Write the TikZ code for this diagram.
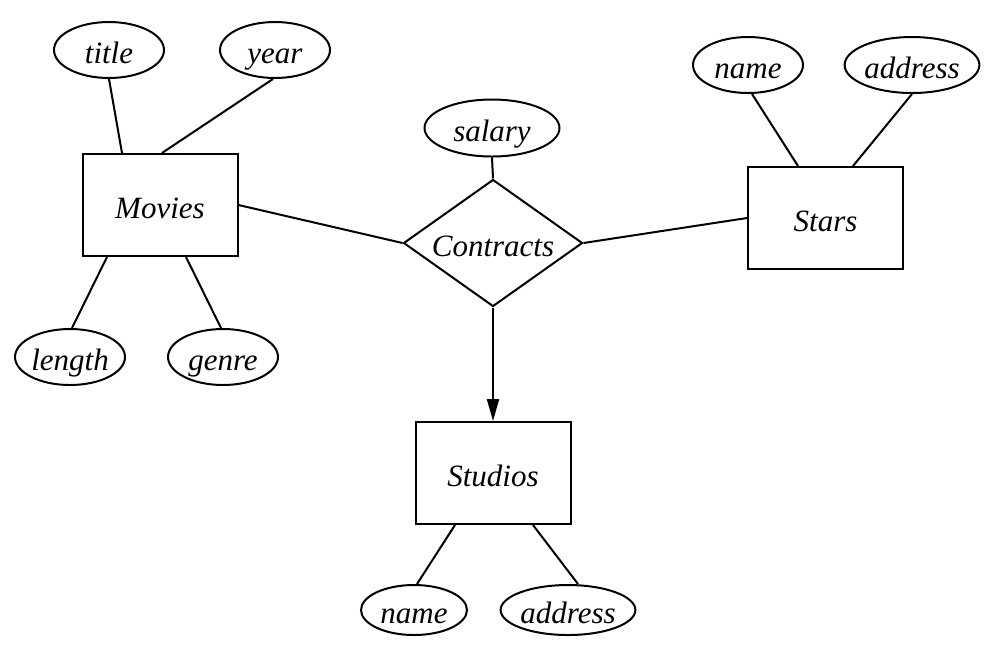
\documentclass[tikz,border=0pt]{standalone}
\usepackage{fontspec}
\setmainfont{Liberation Serif}
\usetikzlibrary{arrows.meta, shapes.geometric}

\begin{document}
\begin{tikzpicture}[
  x=0.5pt, y=-0.5pt,
  every node/.style = {font=\itshape\fontsize{15.5}{18}\selectfont, line width=1pt,
                       text height=13pt, text depth=0pt},
  entity/.style     = {rectangle, draw, minimum width=77.5pt, minimum height=51pt},
  attr/.style       = {ellipse, draw, inner sep=0pt, minimum width=55pt, minimum height=28pt},
  rel/.style        = {diamond, draw, inner sep=0pt, aspect=1.4,
                       minimum width=89.5pt, minimum height=63.5pt},
  link/.style       = {line width=1pt},
  arrow/.style      = {-{Triangle[length=11pt, width=6pt]}, line width=1pt}
]
\useasboundingbox (0,0) rectangle (1006,661);

% ── Entities and relationship ───────────────────────────────────────────────
\node[entity] (movies)  at (160,205)   {Movies};
\node[entity] (stars)   at (825.5,218) {Stars};
\node[entity] (studios) at (493,473)   {Studios};
\node[rel]    (contr)   at (493,243)   {Contracts};

% ── Attributes ───────────────────────────────────────────────────────────────
\node[attr] (title)  at (109,50)  {title};
\node[attr] (year)   at (275,50)  {year};
\node[attr] (length) at (70,357)  {length};
\node[attr] (genre)  at (223,357) {genre};
\node[attr, minimum width=67.5pt, minimum height=28.5pt] (salary) at (492,128) {salary};
\node[attr] (sname)  at (748,65)  {name};
\node[attr, minimum width=66pt] (saddr) at (912,65) {address};
\node[attr, minimum width=53pt, minimum height=25pt] (stname) at (414,610) {name};
\node[attr, minimum width=67pt, minimum height=25pt] (staddr) at (568,610) {address};

% ── Attribute links ──────────────────────────────────────────────────────────
\draw[link] (title.south) -- ([xshift=-19pt]movies.north);
\draw[link] ([xshift=-1pt]year.south) -- ([xshift=1pt]movies.north);
\draw[link] ([xshift=-26.5pt]movies.south) -- ([xshift=1pt]length.north);
\draw[link] ([xshift=13pt]movies.south) -- ([xshift=-1pt]genre.north);
\draw[link] ([xshift=2pt]sname.south) -- ([xshift=-13.75pt]stars.north);
\draw[link] (saddr.south) -- ([xshift=13.75pt]stars.north);
\draw[link] ([xshift=-19pt]studios.south) -- ([xshift=1.5pt]stname.north);
\draw[link] ([xshift=20pt]studios.south) -- ([xshift=5pt]staddr.north);
\draw[link] (salary.south) -- (contr.north);

% ── Relationship links ───────────────────────────────────────────────────────
\draw[link] (movies.east) -- (contr.west);
\draw[link] (contr.east) -- (stars.west);
\draw[arrow] (contr.south) -- (studios.north);

\end{tikzpicture}
\end{document}
